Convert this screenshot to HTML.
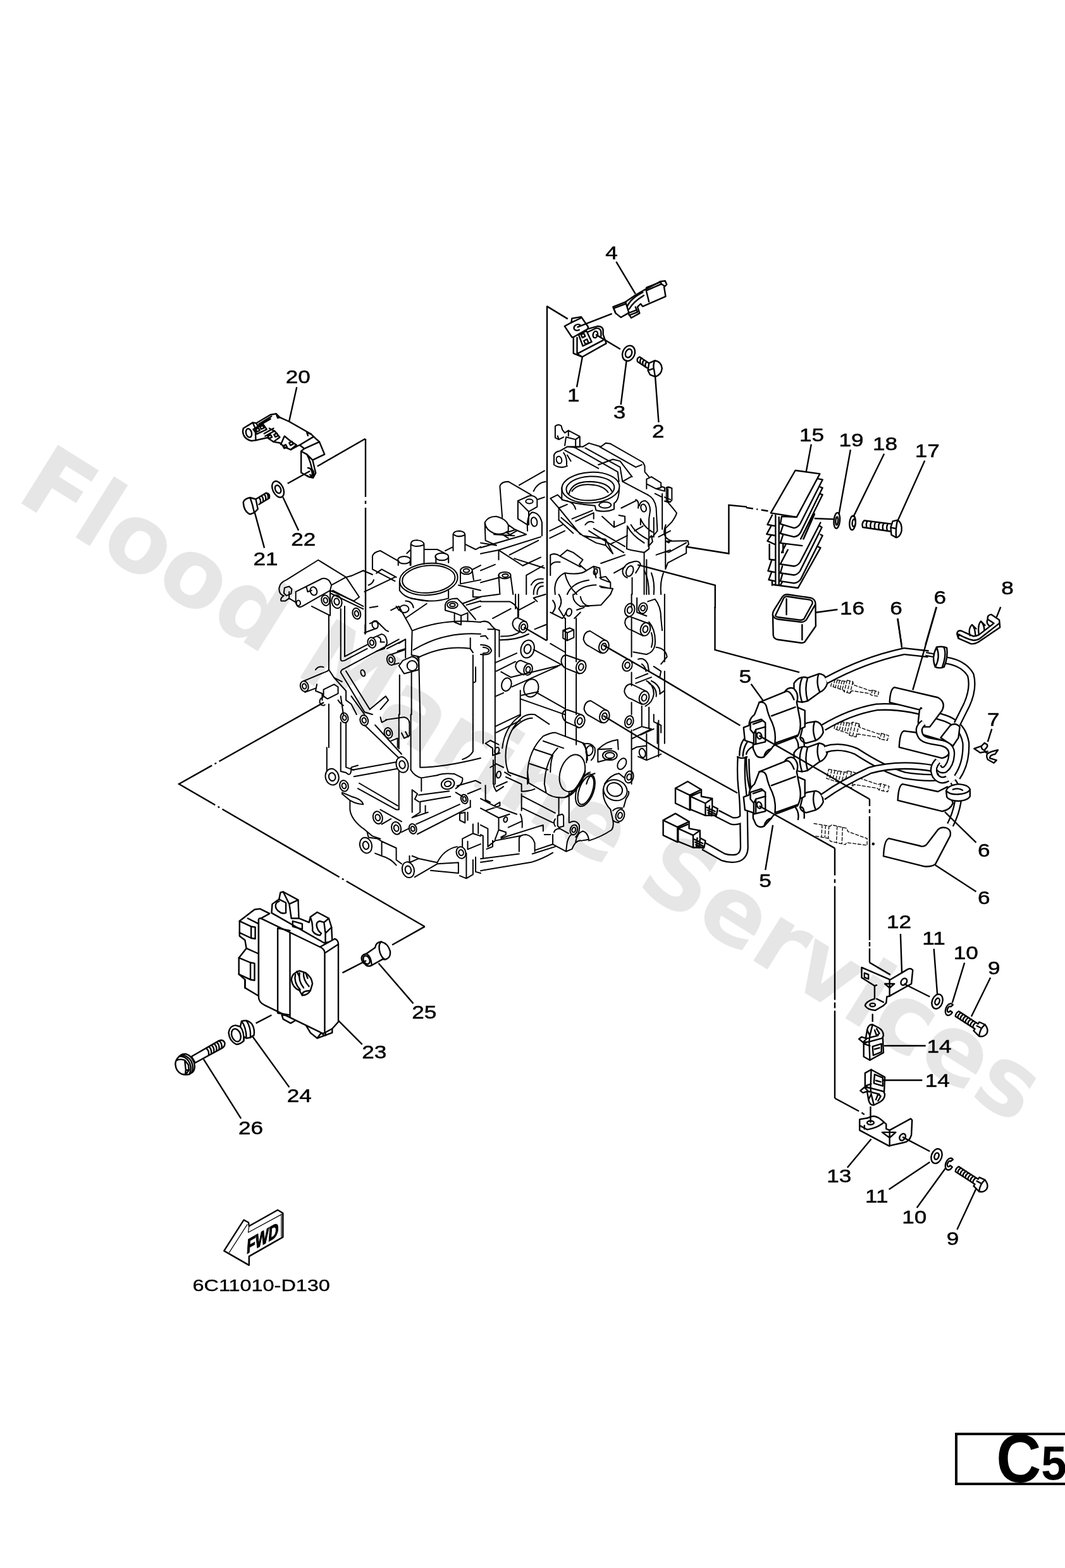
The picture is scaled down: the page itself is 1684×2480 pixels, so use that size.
<!DOCTYPE html>
<html lang="en">
<head>
<meta charset="utf-8">
<title>C5 - Electrical 1 - 6C11010-D130</title>
<style>
html,body{margin:0;padding:0;background:#fff;}
body{width:1684px;height:2480px;overflow:hidden;position:relative;font-family:"Liberation Sans",sans-serif;}
svg{position:absolute;left:0;top:0;display:block;will-change:transform;}
.wm{font-family:"DejaVu Sans","Liberation Sans",sans-serif;font-weight:bold;fill:#000;fill-opacity:0.098;}
.lb{font-family:"Liberation Sans",sans-serif;font-size:29.5px;fill:#000;stroke:#000;stroke-width:0.5;text-anchor:middle;}
.k{fill:none;stroke:#000;stroke-width:2.4;stroke-linecap:round;stroke-linejoin:round;}
.kf{fill:#fff;stroke:#000;stroke-width:2.4;stroke-linecap:round;stroke-linejoin:round;}
.t{fill:none;stroke:#000;stroke-width:1.4;stroke-linecap:round;stroke-linejoin:round;}
.ld{fill:none;stroke:#000;stroke-width:2.4;}
.dd{fill:none;stroke:#000;stroke-width:1.5;stroke-dasharray:120 6 8 6;}
.ph{fill:none;stroke:#000;stroke-width:1.3;stroke-dasharray:14 3 3 3;}

.z path,.z ellipse,.z circle,.z line,.z polyline,.z polygon,.z rect{vector-effect:non-scaling-stroke;}
.w{fill:#fff;}
.tb{fill:none;stroke:#000;stroke-linecap:butt;stroke-linejoin:round;}
.tw{fill:none;stroke:#fff;stroke-linecap:butt;stroke-linejoin:round;}
.bk{fill:none;stroke:#000;stroke-width:2;stroke-linecap:round;stroke-linejoin:round;}
.bk .f{fill:#fff;}
</style>
</head>
<body>
<svg width="1684" height="2480" viewBox="0 0 1684 2480">
<rect width="1684" height="2480" fill="#fff"/>
<!-- PAGEBOX -->
<g id="pagebox">
<rect x="1512" y="2268" width="200" height="79" fill="#fff" stroke="#000" stroke-width="4"/>
<text transform="translate(1575.3,2344) scale(0.92,1)" font-family="Liberation Sans, sans-serif" font-weight="bold" font-size="107" fill="#000">C</text>
<text transform="translate(1646.3,2340) scale(0.95,1)" font-family="Liberation Sans, sans-serif" font-weight="bold" font-size="76.5" fill="#000">5</text>
</g>
<!-- BLOCK -->
<g id="block">
<!-- T_A region (760,640) 300 -->
<g class="z bk" transform="translate(760,640) scale(0.190114)">
<path d="M620,180 Q640,160 670,175 L680,210 L700,235 L730,215 L825,265 L825,350 L790,355 L790,290 L710,270 L700,340 M620,180 L620,275 L650,290 L690,270 M650,290 L640,260 M730,215 L730,260 M790,290 L825,265"/>
<path d="M610,420 Q620,390 660,385 L720,350 L780,355 M610,420 L610,500 Q640,525 690,520 L720,510 M690,400 Q720,440 715,500 M720,350 L850,350 M720,420 L750,470"/>
<ellipse cx="652" cy="460" rx="22" ry="30" transform="rotate(-15 652 460)"/>
<path d="M850,350 L900,320 L1000,350 L1040,320 L1080,325 L1350,480 L1365,510 L1365,560 L1400,600 M870,360 L1160,520 M990,350 L1290,520 M780,355 L1140,560 M980,500 L1100,455 L1160,470 L1260,600 M1290,520 L1340,500 M1180,640 L1250,600 M700,380 L980,530 M1160,520 L1180,640 L1390,750 M1140,560 L1150,640"/>
<ellipse cx="915" cy="690" rx="240" ry="128" transform="rotate(-3 915 690)"/>
<ellipse cx="912" cy="697" rx="200" ry="100" transform="rotate(-3 912 697)"/>
<path d="M735,740 Q760,640 910,640 Q1060,645 1090,720 M760,720 Q800,660 910,665 Q1020,670 1060,730"/>
<path d="M675,690 L675,790 Q800,830 950,840 L960,880 Q1040,900 1110,870 L1110,820 Q1150,800 1152,700 M580,780 L640,750 L680,790 M580,780 L650,860 L650,960 M650,860 L720,830 M720,800 Q780,820 790,870"/>
<ellipse cx="1035" cy="835" rx="50" ry="25"/>
<path d="M1380,620 L1420,600 L1500,650 L1500,690 L1460,700 L1380,660 Z M1380,620 L1380,700 M1460,700 L1530,720 L1530,690 L1500,680 M1545,690 Q1560,680 1578,690 M1545,690 L1545,800 L1578,810 M1450,740 L1510,770 L1510,800"/>
<ellipse cx="1355" cy="860" rx="22" ry="32" transform="rotate(-15 1355 860)"/>
<path d="M1320,840 Q1330,800 1370,800 Q1410,820 1410,880 L1400,950 M1390,750 Q1450,780 1460,860 L1470,1050 L1430,1100 M1440,940 L1440,1100 M1400,950 L1400,1200 L1360,1230 L1360,1578 M1380,1290 L1380,1578 M1395,1120 L1420,1090 L1430,1140 L1395,1180 Z M1170,860 L1290,800 M1290,790 Q1320,800 1310,860"/>
<path d="M1220,1010 Q1260,1090 1360,1150 M1250,1000 Q1290,1070 1390,1120 M1330,950 Q1360,1020 1430,1060 M1220,1010 L1215,1200 L1250,1210 L1360,1230 M1330,950 L1330,1000 M1280,1050 L1350,1010"/>
<path d="M650,860 L830,1080 M650,960 L770,1070 M670,940 L850,1090 L1040,1120 L1040,1170 L960,1150 L850,1090 M1040,1170 L1100,1240 M760,950 L930,880 M790,970 L940,900 L940,950 M900,1050 L1190,1230 M940,1030 L1200,1180 M870,1000 Q900,960 940,980 M1010,930 L1110,1020 L1200,980 L1200,930 L1150,920 M1080,1160 L1220,1090 M575,1050 L680,1000 M575,1110 L700,1050 M1100,1240 L1040,1120 M1110,1020 L1110,970"/>
<path d="M160,680 Q170,640 230,640 L420,750 M160,680 L180,940 M320,670 L530,550 M310,800 L400,760 Q450,750 470,790 L470,850 L400,890 L310,800 M310,800 L310,950 L390,1000 M400,890 L400,1000 M440,720 Q470,650 540,640 M470,790 L530,770"/>
<ellipse cx="405" cy="805" rx="30" ry="18"/>
<path d="M390,1050 Q380,920 430,895 Q490,900 510,980 L510,1090"/>
<ellipse cx="445" cy="975" rx="25" ry="38" transform="rotate(-10 445 975)"/>
<path d="M35,980 Q60,930 130,930 Q210,950 230,1000 L230,1050 Q180,1090 110,1070 Q40,1040 35,980 Z M35,980 L40,1130 L130,1170 M110,1080 L280,1090 M230,1000 L300,1050 L230,1090 M180,1080 L230,1110 M210,1060 L260,1090"/>
<path d="M150,1210 L150,1290 M150,1210 L500,1100 M150,1210 L350,1340 M240,1250 L480,1130 M0,1190 L380,1080 L290,1040 L230,1060 M0,1240 L150,1210 M280,1280 L530,1360 M0,1380 L120,1330 M0,1480 L150,1440 M350,1340 L500,1270 M0,1150 L130,1170"/>
<ellipse cx="200" cy="1420" rx="50" ry="28"/>
<ellipse cx="205" cy="1422" rx="25" ry="14"/>
<path d="M150,1420 L160,1578 M250,1430 L270,1578 M380,1420 L380,1578 M380,1420 L520,1340 M420,1500 Q450,1440 520,1450 M440,1578 Q440,1480 520,1480 M470,1578 Q470,1510 520,1510"/>
<path d="M580,1250 Q620,1230 660,1260 L720,1210 L770,1230 L850,1290 L820,1330 L880,1380 Q830,1420 700,1400 Q600,1450 620,1578 M700,1400 Q720,1500 800,1578 M660,1260 L830,1350 M580,1250 L580,1420 M580,1340 Q600,1300 660,1310"/>
<path d="M880,1380 L940,1345 L990,1360 L1000,1450 L1080,1480 L1080,1530 L990,1510 M940,1345 L960,1440 M720,1578 Q760,1480 900,1460 M780,1578 Q850,1500 960,1500 M1000,1520 L1100,1530 L1080,1578 M990,1440 L1040,1430 L1080,1480"/>
<ellipse cx="955" cy="1390" rx="15" ry="25" transform="rotate(15 955 1390)"/>
<ellipse cx="1240" cy="1385" rx="28" ry="45" transform="rotate(20 1240 1385)"/>
<path d="M1180,1380 Q1200,1320 1260,1310 Q1320,1290 1330,1330 M1180,1380 Q1180,1430 1220,1440 M1260,1440 L1260,1578 M1000,1320 L1200,1250 M1110,1400 L1200,1350 M1290,1400 Q1310,1370 1330,1330"/>
<path d="M1360,1380 Q1400,1450 1400,1578 M1420,1400 Q1450,1480 1440,1578 M1520,1400 Q1490,1480 1500,1578 M1540,1000 Q1500,1100 1578,1130 M1460,1250 L1578,1210 M1530,770 L1578,790 M1480,1100 L1578,1050"/>
</g>
<!-- T_B region (430,800) 330 -->
<g class="z bk" transform="translate(430,800) scale(0.209125)">
<path d="M55,620 Q60,580 110,560 L350,410 L560,540 L450,600 Q430,540 380,550 L180,650 L180,730 L130,700 L130,650 M55,620 Q50,670 90,680 Q60,700 70,720 L100,720 L130,700 M560,540 L660,690 L620,720 L440,640 M450,600 L440,640 L230,760 Q190,780 180,730 M180,650 L260,610 L270,650 L300,640 M300,760 L440,830 L440,640 M95,620 L130,610 L150,630 L145,665 L110,680 L90,660 Z M600,530 L690,490 M560,540 L600,530"/>
<ellipse cx="315" cy="645" rx="25" ry="32" transform="rotate(-20 315 645)"/>
<ellipse cx="200" cy="735" rx="15" ry="20"/>
<ellipse cx="405" cy="715" rx="30" ry="40" transform="rotate(-15 405 715)"/><ellipse cx="405" cy="715" rx="15" ry="20" transform="rotate(-15 405 715)"/><ellipse cx="490" cy="725" rx="38" ry="50" transform="rotate(-15 490 725)"/><ellipse cx="490" cy="725" rx="19" ry="25" transform="rotate(-15 490 725)"/><ellipse cx="640" cy="815" rx="30" ry="42" transform="rotate(-15 640 815)"/><ellipse cx="640" cy="815" rx="15" ry="21" transform="rotate(-15 640 815)"/>
<path d="M440,660 L690,780 M460,640 L690,760 M430,830 L430,1240 M520,780 L520,1160 M550,760 L550,1140 M520,1160 Q520,1180 550,1170 L720,1080 M550,1140 L720,1050 M430,1240 L470,1300 L530,1330 M520,1260 Q520,1240 550,1230 L960,1010 M520,1260 L700,1560 M560,1250 L740,1540 M700,1560 L760,1578 M740,1540 L860,1440 L880,1470 L820,1540"/>
<ellipse cx="688" cy="1265" rx="15" ry="25" transform="rotate(-20 688 1265)"/>
<path d="M760,380 Q770,350 820,340 L960,420 M760,380 L760,480 L930,570 M790,510 L830,480 L940,540 M730,600 Q760,590 770,560 M700,650 L930,540 M740,770 L800,760 M690,490 L760,520"/>
<path d="M1050,290 Q1050,260 1100,260 Q1150,265 1150,295 L1150,440 M1050,290 L1050,450 M1050,290 Q1080,320 1150,295 M1370,215 Q1375,190 1420,190 Q1460,195 1460,220 L1460,340 M1370,215 L1370,340 M1370,215 Q1410,245 1460,220 M955,415 L955,450 M1045,415 L1045,450 M1240,390 L1240,430 M1335,390 L1335,430 M1020,360 L1050,330 M1150,330 L1250,330 L1310,360 M1310,340 L1370,310 M1460,290 L1540,330 L1578,310"/>
<ellipse cx="1000" cy="410" rx="48" ry="28"/>
<ellipse cx="1285" cy="385" rx="50" ry="28"/>
<ellipse cx="1185" cy="555" rx="220" ry="120" transform="rotate(-5 1185 555)"/>
<ellipse cx="1185" cy="555" rx="200" ry="103" transform="rotate(-5 1185 555)"/>
<path d="M965,570 L965,640 M1335,640 L1335,700 Q1200,740 1060,700 M965,640 Q1000,690 1060,700"/>
<ellipse cx="1470" cy="490" rx="45" ry="28" transform="rotate(0 1470 490)"/><ellipse cx="1470" cy="490" rx="22" ry="14" transform="rotate(0 1470 490)"/><ellipse cx="1365" cy="750" rx="40" ry="25" transform="rotate(0 1365 750)"/><ellipse cx="1365" cy="750" rx="20" ry="12" transform="rotate(0 1365 750)"/>
<path d="M1425,495 L1425,590 M1515,495 L1525,560 M1425,590 L1578,560 M1410,600 L1578,640 M1520,480 L1578,450 M1520,640 L1520,690 L1578,690 M1310,750 Q1320,700 1400,700 L1440,740 L1578,690 M1310,750 L1310,790 L1380,810 M1440,740 L1540,860 M1380,810 L1380,880 L1430,900 L1430,830 L1380,810 M1430,830 L1480,810 L1480,870 M1500,790 L1578,760 M1470,750 L1578,720"/>
<path d="M1060,945 Q1300,850 1578,880 M1070,1090 Q1300,950 1578,970 M1100,1150 Q1300,1050 1500,1080 M1060,945 Q1040,900 1010,850 L960,760 M1060,945 L1055,1130 M1010,1010 L1010,1150 M960,760 L900,790 M1500,1000 L1500,1080 L1520,1110 M1060,1130 L1110,1140 L1120,1578 M1055,1250 L1055,1578 M965,1280 L965,1578 M1520,1130 L1520,1578 M1540,1220 L1540,1330 L1520,1340"/>
<ellipse cx="755" cy="1035" rx="30" ry="40" transform="rotate(-15 755 1035)"/><ellipse cx="755" cy="1035" rx="15" ry="20" transform="rotate(-15 755 1035)"/><ellipse cx="900" cy="1165" rx="30" ry="40" transform="rotate(-15 900 1165)"/><ellipse cx="900" cy="1165" rx="15" ry="20" transform="rotate(-15 900 1165)"/>
<ellipse cx="780" cy="900" rx="22" ry="30" transform="rotate(-15 780 900)"/>
<ellipse cx="1000" cy="780" rx="35" ry="28"/>
<ellipse cx="1060" cy="1210" rx="38" ry="38"/>
<path d="M700,960 L780,930 M705,900 L705,970 M740,890 L790,870 L860,940 L880,950 M760,1000 L830,970 Q870,980 870,1040 L850,1080 L790,1100 M800,990 Q830,1000 820,1030 L850,1030 M960,790 L940,760 M1010,720 Q1060,720 1070,770 M1050,700 L1180,720 M1010,850 L1170,740 M900,1125 L1000,1090 M920,1200 L960,1190 M990,1170 L1060,1140 Q1110,1150 1110,1200 L1110,1240 L1000,1270 L960,1210 Z M960,1040 L1010,1010 M950,1100 L1010,1080 M870,1080 L1010,1010"/>
<ellipse cx="245" cy="1365" rx="30" ry="40" transform="rotate(-15 245 1365)"/><ellipse cx="245" cy="1365" rx="15" ry="20" transform="rotate(-15 245 1365)"/>
<path d="M240,1325 L420,1250 M250,1410 L330,1380 M330,1240 Q350,1210 390,1220 M340,1350 L330,1400 L380,1420 L380,1470 M390,1390 L470,1350 L500,1370 L500,1420 L420,1460 L390,1440 Z M470,1300 L560,1400 M420,1250 L430,1240 M385,1450 A25,30 0 1 0 400,1505 M430,1500 L430,1578 M520,1440 L540,1578 M500,1470 Q520,1500 540,1510 M560,1400 L560,1470 L600,1500 L640,1578 M600,1440 L700,1578"/>
</g>
<!-- T_C region (760,940) 300 -->
<g class="z bk" transform="translate(760,940) scale(0.190114)">
<ellipse cx="355" cy="272" rx="35" ry="48" transform="rotate(15 355 272)"/><ellipse cx="355" cy="272" rx="18" ry="24" transform="rotate(15 355 272)"/><ellipse cx="390" cy="455" rx="55" ry="75" transform="rotate(15 390 455)"/><ellipse cx="390" cy="455" rx="28" ry="38" transform="rotate(15 390 455)"/><ellipse cx="395" cy="625" rx="35" ry="48" transform="rotate(15 395 625)"/><ellipse cx="395" cy="625" rx="18" ry="24" transform="rotate(15 395 625)"/><ellipse cx="835" cy="605" rx="40" ry="55" transform="rotate(15 835 605)"/><ellipse cx="835" cy="605" rx="20" ry="28" transform="rotate(15 835 605)"/><ellipse cx="825" cy="1055" rx="40" ry="55" transform="rotate(15 825 1055)"/><ellipse cx="825" cy="1055" rx="20" ry="28" transform="rotate(15 825 1055)"/><ellipse cx="1025" cy="435" rx="40" ry="55" transform="rotate(15 1025 435)"/><ellipse cx="1025" cy="435" rx="20" ry="28" transform="rotate(15 1025 435)"/><ellipse cx="1030" cy="1015" rx="40" ry="55" transform="rotate(15 1030 1015)"/><ellipse cx="1030" cy="1015" rx="20" ry="28" transform="rotate(15 1030 1015)"/><ellipse cx="1240" cy="130" rx="40" ry="55" transform="rotate(15 1240 130)"/><ellipse cx="1240" cy="130" rx="20" ry="28" transform="rotate(15 1240 130)"/><ellipse cx="1350" cy="115" rx="35" ry="45" transform="rotate(15 1350 115)"/><ellipse cx="1350" cy="115" rx="18" ry="22" transform="rotate(15 1350 115)"/><ellipse cx="1370" cy="290" rx="40" ry="55" transform="rotate(15 1370 290)"/><ellipse cx="1370" cy="290" rx="20" ry="28" transform="rotate(15 1370 290)"/><ellipse cx="1220" cy="590" rx="40" ry="50" transform="rotate(15 1220 590)"/><ellipse cx="1220" cy="590" rx="20" ry="25" transform="rotate(15 1220 590)"/><ellipse cx="1360" cy="860" rx="40" ry="55" transform="rotate(15 1360 860)"/><ellipse cx="1360" cy="860" rx="20" ry="28" transform="rotate(15 1360 860)"/><ellipse cx="1235" cy="1060" rx="35" ry="50" transform="rotate(15 1235 1060)"/><ellipse cx="1235" cy="1060" rx="18" ry="25" transform="rotate(15 1235 1060)"/><ellipse cx="1235" cy="1520" rx="35" ry="50" transform="rotate(15 1235 1520)"/><ellipse cx="1235" cy="1520" rx="18" ry="25" transform="rotate(15 1235 1520)"/>
<ellipse cx="735" cy="150" rx="22" ry="32" transform="rotate(15 735 150)"/>
<ellipse cx="215" cy="750" rx="40" ry="55" transform="rotate(15 215 750)"/>
<ellipse cx="420" cy="780" rx="60" ry="75" transform="rotate(15 420 780)"/>
<ellipse cx="1345" cy="1320" rx="25" ry="38" transform="rotate(-15 1345 1320)"/>
<path d="M265,245 Q270,200 310,195 L380,230 M265,245 Q270,290 320,310 M290,600 Q295,555 335,550 L400,578 M290,600 Q300,650 360,670 M670,560 Q670,510 710,505 L845,552 M670,560 Q680,610 720,620 L820,660 M680,1010 Q680,965 720,960 L835,1000 M680,1010 Q690,1060 730,1070 L810,1105 M855,375 Q860,310 910,305 L1040,385 M855,375 Q870,420 900,430 L1000,488 M860,955 Q865,890 915,885 L1045,965 M860,955 Q875,1000 905,1010 L1005,1068 M1200,240 Q1200,190 1240,185 L1390,240 M1200,240 Q1210,290 1260,300 L1350,345 M1195,810 Q1200,750 1250,745 L1380,808 M1195,810 Q1210,860 1250,870 L1340,915"/>
<path d="M20,500 L20,1240 M120,290 L120,1578 M155,300 L155,520 M330,800 L330,1010 M290,0 L290,120 M315,0 L315,185 M705,200 L705,1180 M795,200 L795,560 M795,660 L795,1000 M795,1110 L795,1250 M1255,0 L1255,100 M1255,200 L1255,520 M1255,650 L1255,760 M1255,900 L1255,1000 M1255,1130 L1255,1578 M1530,0 L1530,560 M1530,640 L1530,1240 M1480,1050 L1480,1350"/>
<path d="M120,570 L300,490 M130,640 L290,560 M120,850 L190,820 M170,645 L250,690 M250,690 L660,590 M260,770 L640,600 M330,870 L700,1000 M340,840 L480,810 M470,820 L700,950 M120,1100 L330,1000 M130,1150 L330,1050 M580,410 L700,480 M440,460 L680,590 M0,60 L240,60 Q290,80 310,130 L310,190 M0,20 L150,0 M100,200 L250,120 M160,380 Q300,380 400,330 M170,350 Q280,350 330,310"/>
<path d="M0,230 Q60,210 90,260 L120,290 L155,300 M60,290 L120,290 M0,350 L40,345 L60,370 M0,420 Q80,420 90,470 Q80,510 0,500 M20,440 Q70,445 70,470 Q60,490 20,490 M440,30 L540,0 M440,30 L470,60 M450,290 L550,250 M320,130 L450,60 M580,150 L680,200 Q700,180 710,150 M600,50 Q640,100 600,150 M650,0 Q690,60 650,120 L700,200 M770,0 Q760,60 830,100 L1000,90 L1080,0 M830,20 Q840,80 900,100 M800,130 L860,110 M780,200 L830,150 M685,300 L740,280 L775,295 L775,360 L720,385 L685,365 Z M685,300 L720,320 L720,385 M720,320 L775,295"/>
<path d="M1300,30 L1300,150 L1380,180 M1390,60 L1450,40 Q1500,100 1500,200 L1510,300 M1400,230 Q1460,300 1450,420 Q1440,480 1380,500 L1270,480 M1420,320 Q1440,380 1420,440 M1460,440 Q1540,450 1550,520 L1500,580 M1310,540 Q1360,520 1390,580 L1400,640 M1340,580 Q1370,600 1375,640 M1440,600 L1500,640 L1490,690 M1290,700 L1390,660 M1290,740 L1420,690 M1380,720 Q1440,750 1440,830 Q1430,900 1370,930 M1400,740 Q1470,780 1460,850 M1420,720 Q1500,760 1490,830 L1530,800 M1340,930 L1340,1100 M1400,940 L1400,1110 M1440,1000 L1440,1060 L1500,1090 L1500,1150 M1270,1130 L1340,1100 L1420,1120 L1300,1180 M1330,1170 L1440,1120 M1260,1200 L1300,1180 M1260,1290 L1300,1270 L1380,1260 M1380,1160 L1380,1380 L1310,1350 M1380,1380 L1500,1330 M1470,1070 L1470,1240"/>
<path d="M390,1480 Q400,1300 520,1180 Q580,1150 620,1150 L860,1240 Q890,1300 880,1400 M390,1480 L390,1578 M450,1290 L600,1340 M520,1220 L690,1280 M410,1410 L560,1460 M530,1578 Q540,1380 640,1280 M600,1340 Q580,1400 580,1480 M210,1300 Q230,1120 350,1020 Q400,990 450,1000 L570,1080 M180,1280 Q200,1100 330,1010 M260,1130 Q350,1030 430,1030 M210,1300 Q200,1400 230,1480 L400,1540 M200,1480 L250,1510 M860,1245 Q920,1230 950,1280 Q960,1340 920,1380"/>
<ellipse cx="905" cy="1300" rx="28" ry="42" transform="rotate(15 905 1300)"/>
<path d="M40,1240 L80,1215 L150,1250 M40,1240 L100,1280 L100,1340 M100,1340 L160,1320 M80,1440 L130,1410 L190,1440 M105,1380 L105,1578"/>
<ellipse cx="135" cy="1300" rx="18" ry="28" transform="rotate(15 135 1300)"/>
<ellipse cx="150" cy="1500" rx="18" ry="28" transform="rotate(15 150 1500)"/>
<path d="M975,1290 Q1050,1220 1140,1210 L1145,1290 M975,1290 L975,1395 L1090,1365 M975,1290 L1090,1285 M1030,1578 Q1080,1500 1150,1490 L1200,1530 M880,1578 Q900,1500 950,1490 M830,1578 Q860,1490 910,1480"/>
<ellipse cx="1075" cy="1340" rx="60" ry="40"/>
<ellipse cx="1075" cy="1340" rx="38" ry="24"/>
<ellipse cx="1175" cy="1410" rx="32" ry="50" transform="rotate(30 1175 1410)"/>
</g>
<!-- T_D region (430,1130) 330 -->
<g class="z bk" transform="translate(430,1130) scale(0.209125)">
<ellipse cx="548" cy="25" rx="28" ry="38" transform="rotate(-15 548 25)"/><ellipse cx="548" cy="25" rx="14" ry="19" transform="rotate(-15 548 25)"/><ellipse cx="697" cy="45" rx="30" ry="40" transform="rotate(-15 697 45)"/><ellipse cx="697" cy="45" rx="15" ry="20" transform="rotate(-15 697 45)"/><ellipse cx="880" cy="140" rx="30" ry="40" transform="rotate(-15 880 140)"/><ellipse cx="880" cy="140" rx="15" ry="20" transform="rotate(-15 880 140)"/><ellipse cx="455" cy="472" rx="50" ry="62" transform="rotate(-15 455 472)"/><ellipse cx="455" cy="472" rx="25" ry="31" transform="rotate(-15 455 472)"/><ellipse cx="545" cy="540" rx="32" ry="42" transform="rotate(-15 545 540)"/><ellipse cx="545" cy="540" rx="16" ry="21" transform="rotate(-15 545 540)"/><ellipse cx="985" cy="380" rx="45" ry="60" transform="rotate(-15 985 380)"/><ellipse cx="985" cy="380" rx="22" ry="30" transform="rotate(-15 985 380)"/><ellipse cx="800" cy="780" rx="35" ry="48" transform="rotate(-15 800 780)"/><ellipse cx="800" cy="780" rx="18" ry="24" transform="rotate(-15 800 780)"/><ellipse cx="940" cy="860" rx="35" ry="48" transform="rotate(-15 940 860)"/><ellipse cx="940" cy="860" rx="18" ry="24" transform="rotate(-15 940 860)"/><ellipse cx="1065" cy="865" rx="28" ry="38" transform="rotate(-15 1065 865)"/><ellipse cx="1065" cy="865" rx="14" ry="19" transform="rotate(-15 1065 865)"/><ellipse cx="710" cy="990" rx="45" ry="60" transform="rotate(-15 710 990)"/><ellipse cx="710" cy="990" rx="22" ry="30" transform="rotate(-15 710 990)"/><ellipse cx="1030" cy="1175" rx="45" ry="60" transform="rotate(-15 1030 1175)"/><ellipse cx="1030" cy="1175" rx="22" ry="30" transform="rotate(-15 1030 1175)"/><ellipse cx="1330" cy="525" rx="50" ry="40" transform="rotate(-15 1330 525)"/><ellipse cx="1330" cy="525" rx="25" ry="20" transform="rotate(-15 1330 525)"/><ellipse cx="1455" cy="640" rx="25" ry="35" transform="rotate(-15 1455 640)"/><ellipse cx="1455" cy="640" rx="12" ry="18" transform="rotate(-15 1455 640)"/><ellipse cx="1430" cy="1045" rx="35" ry="45" transform="rotate(-15 1430 1045)"/><ellipse cx="1430" cy="1045" rx="18" ry="22" transform="rotate(-15 1430 1045)"/>
<path d="M430,0 L430,250 M415,250 L415,430 M520,60 L520,430 M560,60 L560,400 L620,420 M520,430 L560,440 M700,80 L960,330 M780,80 L980,300 M960,0 L960,260 M1050,0 L1050,420 M1120,0 L1120,400 Q1300,400 1578,330 M1520,0 L1520,280 Q1500,320 1440,340"/>
<path d="M610,420 L940,360 M620,470 L950,410 M600,400 L650,385 M560,440 Q600,480 600,400 M960,430 L960,720 M660,520 L950,690 M650,560 L940,720 L960,720 M530,590 L600,620 Q680,640 690,680 Q640,680 590,650 L530,600 M590,650 L590,720 Q600,800 700,870 M700,870 L760,920 L820,940 M1050,420 Q1080,470 1130,480 L1250,460 M1130,480 L1130,580 M1060,570 L1060,740 M1060,570 L1100,600 L1080,640 L1110,660 M1110,610 L1340,580 M1120,660 L1350,620 M1120,660 L1120,740 L1060,780 M1160,690 L1160,740 M1060,780 L1180,740 M1090,830 L1420,680 M1100,905 L1500,700 M820,720 L980,810 M830,830 L900,790 M980,890 L1040,860"/>
<path d="M1250,460 Q1300,440 1380,450 L1440,480 Q1450,520 1390,560 M1400,540 L1540,500 L1578,520 M1390,590 L1440,620 M1480,600 L1578,560 M1500,700 L1500,650 M1420,750 L1460,740 L1460,820 L1420,800 Z M1480,740 L1480,800 M1520,830 L1520,900 L1440,940 L1440,1000 M1560,820 L1560,900 M1480,960 L1480,1020 L1578,980 M1520,900 L1578,920"/>
<path d="M720,890 L730,930 L800,940 L830,960 L830,1070 L780,1050 M830,960 L940,1010 L940,1100 L980,1130 M830,1070 Q900,1090 940,1140 M1040,1070 L1040,1120 L1110,1090 L1060,1070 M1110,1090 L1250,1120 M1250,1120 Q1300,1020 1400,1000 M1080,1230 L1250,1130 L1410,1120 L1410,1200 L1200,1180 M1470,1050 L1470,1240 L1420,1220 M1470,1240 L1520,1210 L1520,1100 M1540,1080 L1540,1190 L1578,1200"/>
<path d="M860,40 L1000,20 Q1040,30 1040,70 L1040,160 L1000,180 M900,200 L950,180 L950,250 M820,20 L830,60 L870,40 M980,140 L1000,180 M1010,130 L1030,170"/>
</g>
<!-- T_E region (760,1130) 300 -->
<g class="z bk" transform="translate(760,1130) scale(0.190114)">
<ellipse cx="775" cy="960" rx="30" ry="42" transform="rotate(15 775 960)"/><ellipse cx="775" cy="960" rx="15" ry="21" transform="rotate(15 775 960)"/><ellipse cx="1160" cy="840" rx="35" ry="50" transform="rotate(15 1160 840)"/><ellipse cx="1160" cy="840" rx="18" ry="25" transform="rotate(15 1160 840)"/>
<path d="M390,480 L400,570 L540,650 Q600,700 700,690 Q800,640 870,470 M530,578 L545,650 M230,480 L400,540 M340,640 Q400,640 450,620 M210,520 L340,580 L340,640"/>
<path d="M650,690 L650,840 M735,650 L735,900 M340,660 L340,800 M350,780 L600,900 M350,680 L620,820 M330,830 Q350,870 345,940"/>
<path d="M40,590 L40,710 L80,730 M0,700 L110,760 L160,730 L160,760 L40,800 M110,760 L300,830 M0,780 L150,860 L150,960 L120,1040 M150,860 L240,830 M150,960 L210,980 L210,1000 L170,1020 M0,920 L60,950 L60,1100 L120,1050 M0,1000 L20,1010 L20,1190 M100,1050 L100,1100 L50,1120 M230,940 L340,890 M170,1030 L520,920 L520,970 M120,1050 L330,1010 M320,1030 Q330,1000 380,1000 Q430,1010 450,1070 L450,1140 M320,1030 L320,1140 M450,1130 L600,1080 M430,1160 L620,1100 M0,1200 L320,1160 M0,1300 L420,1230 Q520,1200 600,1150 M0,1230 L100,1215 M530,1000 L580,1000"/>
<ellipse cx="207" cy="875" rx="15" ry="22" transform="rotate(15 207 875)"/>
<path d="M640,840 L680,830 L690,845 L690,930 L650,940 L640,925 Z M620,870 Q600,900 620,930 M740,900 Q790,870 820,920 Q830,980 790,1020 M610,980 Q620,950 660,950 L730,990 M600,1000 L600,1080 L710,1140 L720,1060 Q740,1000 760,1000 M710,1140 L760,1120 Q790,1040 840,1050 M790,1060 Q800,990 850,970 Q890,980 900,1040 L840,1050"/>
<path d="M110,580 L110,600 L130,640 L190,600 M130,600 L220,560"/>
<ellipse cx="870" cy="630" rx="70" ry="140" transform="rotate(20 870 630)"/>
<ellipse cx="875" cy="630" rx="55" ry="125" transform="rotate(20 875 630)"/>
<ellipse cx="1120" cy="630" rx="100" ry="85" transform="rotate(20 1120 630)"/>
<ellipse cx="1115" cy="625" rx="65" ry="55" transform="rotate(20 1115 625)"/>
<path d="M1020,620 Q1010,720 1080,790 L1100,880 Q1110,930 1090,960 Q1000,1020 900,1050 M1230,640 Q1240,660 1210,700 L1190,770 M1100,800 Q1130,770 1180,780 M1100,880 Q1120,900 1150,900"/>
<ellipse cx="762" cy="488" rx="100" ry="158" transform="rotate(18 762 488)"/>
<path d="M850,240 Q890,290 888,380 M870,470 Q850,560 790,630 Q750,680 700,690"/>
</g>
<!-- T_F region (980,700) 200 -->
<g class="z bk" transform="translate(980,700) scale(0.126743)">
<path d="M580,570 Q610,550 650,570 L650,720 Q630,750 600,740 L600,580 M530,640 L530,1080 M560,730 L600,745 Q690,850 710,880 Q700,920 650,990 L580,1060 M570,1070 L570,1578 M570,1230 L850,1225 L860,1270 L830,1300 L830,1380 L600,1500 L570,1578 M570,1360 L610,1370 L830,1250 M570,1230 L610,1250 L640,1220"/>
</g>
<!-- T_G right column below (1040..1080, 900..1300) -->
</g>
<!-- PARTS -->
<g id="parts">
<!-- R1: parts 1,2,3,4 region (840,380) 260 -->
<g class="z k" transform="translate(840,380) scale(0.164766)">
<path d="M785,640 L905,592 Q1000,520 1100,470 L1240,395 L1285,390 L1300,425 L1275,450 L1290,540 L1070,635 L1050,610 L1020,640 L1040,700 L960,745 L930,700 L860,740 L810,700 Z"/>
<path d="M905,592 L935,690 M800,650 L905,610 M810,700 L790,650 M1100,470 L1130,590 M1105,455 L1245,400 M1110,480 L1250,420 L1280,440 M1250,420 L1240,395 M920,640 Q950,560 1070,500 M940,660 Q980,590 1080,530 M930,700 L1010,670 M940,720 L1020,690 M1000,640 L1020,690"/>
<path d="M320,825 L385,790 L390,750 L480,735 L510,780 L545,830 L545,850 L640,825 Q690,825 690,870 L690,905 L720,990 L490,1120 L405,1085 L405,930 L390,930 Z"/>
<path d="M385,790 L480,745 M405,930 L545,850 M440,935 L440,1090 L490,1120 M440,1090 L690,960 M455,905 L530,870 L580,975 L495,1015 Z M478,905 L505,893 L518,922 L490,935 Z M505,965 L535,950 L550,985 L520,998 Z M545,880 L620,845 Q665,840 670,880 L670,920"/>
<path d="M470,815 A35,28 -20 1 0 460,860"/>
<ellipse cx="615" cy="905" rx="22" ry="32" transform="rotate(15 615 905)"/>
<ellipse cx="935" cy="1085" rx="58" ry="76" transform="rotate(22 935 1085)"/>
<ellipse cx="935" cy="1085" rx="30" ry="42" transform="rotate(22 935 1085)"/>
<path d="M1130,1180 L1185,1155 Q1250,1165 1255,1230 Q1250,1290 1190,1310 L1140,1290 L1120,1250 Z M1185,1155 Q1165,1200 1180,1250 Q1185,1290 1190,1310 M1120,1250 L1165,1235"/>
<path d="M1130,1180 L1040,1120 Q1010,1130 1020,1165 L1110,1225 M1060,1130 Q1035,1150 1050,1185 M1085,1148 Q1060,1165 1075,1202 M1110,1165 Q1085,1185 1100,1220"/>
</g>
<!-- R2: parts 20,21,22 region (360,600) 260 -->
<g class="z k" transform="translate(360,600) scale(0.164766)">
<path d="M150,470 L240,415 L275,420 L410,340 L465,330 L500,365 L590,405 L800,525 L825,550 L880,600 L930,720 L815,775 L845,900 L820,945 L775,935 L705,895 L705,690 L735,665 L690,630 L605,675 L545,650 L500,610 L440,600 L380,560 L270,585 L225,590 Q150,570 145,500 Z"/>
<path d="M240,415 L265,470 L270,585 M275,420 L290,450 L410,380 M290,450 L265,470 M300,430 L420,355 M465,330 L480,370 L500,365 M800,525 L760,510 L770,540 M700,625 L825,550 M735,665 L880,600 M705,690 L760,720 L815,775 M760,720 Q800,790 815,900"/>
<path d="M245,480 L340,430 L375,480 L280,525 Z M268,480 L295,467 L308,490 L282,503 Z M310,455 L337,442 L350,465 L322,478 Z M360,545 L450,495 L500,555 L440,600 M385,545 L412,532 L425,555 L398,568 Z M445,530 L472,517 L485,540 L458,553 Z M510,625 L545,545 L600,590 L660,630 L605,675 M530,640 L557,627 L570,650 L543,663 Z M590,610 L617,597 L630,620 L603,633 Z M350,520 L440,470 M400,470 L455,500"/>
<ellipse cx="203" cy="515" rx="27" ry="42" transform="rotate(-15 203 515)"/>
<path d="M770,850 A30,45 -20 1 1 765,925 M800,860 A22,35 -20 1 1 790,915"/>
<ellipse cx="483" cy="1055" rx="50" ry="82" transform="rotate(-25 483 1055)"/>
<ellipse cx="483" cy="1055" rx="26" ry="40" transform="rotate(-25 483 1055)"/>
<path d="M150,1180 Q160,1145 215,1135 L270,1150 L290,1245 L255,1280 L215,1295 Q155,1270 150,1180 Z M215,1135 Q240,1200 255,1280 M270,1150 L370,1090 Q410,1095 400,1140 L300,1200 M300,1135 Q320,1150 315,1190 M325,1120 Q345,1135 340,1175 M350,1105 Q370,1120 365,1160 M375,1092 Q392,1110 388,1148"/>
</g>
<!-- R3: parts 15-19 region (1180,680) 340 -->
<g class="z k" transform="translate(1180,680) scale(0.215463)">
<path d="M180,610 L360,297 L540,322 L370,640 Z"/>
<path d="M215,625 L215,1140 M240,640 L240,1140 M190,1135 L380,1160 L545,865 L520,855 M190,625 L155,695 L210,705 M185,700 L150,765 L210,775 M185,770 L155,815 L210,840 M170,840 L170,950 L210,955 M185,960 L160,1035 L210,1045 M185,1045 L165,1100 L210,1110 M190,1110 L190,1140"/>
<path d="M250,690 L260,635 L370,640 M250,690 L350,720 Q380,715 395,690 L560,365 L525,358 M250,760 L270,700 M250,760 L350,785 Q385,780 400,750 L560,425 L545,420 M250,830 L270,770 M250,830 L410,850 M400,800 L560,475 L545,470 M500,615 L420,800 M260,900 L290,840 M270,840 L270,900"/>
<path d="M250,985 L305,880 M420,800 L500,620 M250,985 L350,1000 Q380,995 395,970 L545,680 M250,1050 L265,1000 M250,1050 L350,1065 Q380,1060 395,1035 L555,715 L540,705 M250,1110 L265,1060 M250,1110 L350,1125 Q385,1120 400,1095 L560,775 L545,768 M250,1140 L265,1115"/>
<ellipse cx="665" cy="665" rx="22" ry="58" transform="rotate(5 665 665)"/>
<ellipse cx="665" cy="668" rx="9" ry="30" transform="rotate(5 665 668)"/>
<ellipse cx="780" cy="682" rx="22" ry="52" transform="rotate(5 780 682)"/><path d="M795,655 A12,28 5 1 0 795,705 M795,655 L800,668 M795,705 L802,690"/>
<path d="M1075,670 L1110,662 Q1145,680 1140,740 Q1130,785 1100,790 L1065,770 L1060,715 Z M1110,662 Q1095,720 1100,790 M1060,715 L1098,725 M1065,690 L865,665 Q845,685 855,715 L1060,745 M890,668 Q875,690 885,718 M920,672 Q905,695 915,722 M950,676 Q935,700 945,727 M980,680 Q965,703 975,731 M1010,684 Q995,707 1005,735 M1040,688 Q1025,711 1035,739"/>
<path d="M195,1365 Q190,1345 205,1320 L265,1225 Q280,1205 305,1208 L470,1232 Q505,1240 508,1275 L510,1440 L430,1555 Q420,1565 400,1563 L235,1540 Q200,1535 198,1505 Z"/>
<path d="M198,1365 Q205,1385 235,1390 L400,1410 Q425,1412 440,1395 L505,1285 M215,1360 L275,1235 Q285,1220 305,1223 L465,1247 Q490,1252 485,1275 L425,1385 Q415,1398 395,1395 L235,1375 Q212,1372 215,1360 Z M295,1240 L295,1355 M410,1430 L410,1540"/>
</g>
<!-- R4: coils region (1040,960) 340 -->
<g class="z k" transform="translate(1040,960) scale(0.215463)">
<path class="tb" stroke-width="14" d="M338,1756 L480,1836 Q540,1856 590,1841 Q635,1821 635,1761 L632,1581 Q632,1421 618,1321 Q608,1221 615,1100"/><path class="tb" stroke-width="13" d="M437,1516 L540,1569 Q590,1581 625,1551"/><path class="tw" stroke-width="9.4" d="M338,1756 L480,1836 Q540,1856 590,1841 Q635,1821 635,1761 L632,1581 Q632,1421 618,1321 Q608,1221 615,1100"/><path class="tw" stroke-width="8.4" d="M437,1516 L540,1569 Q590,1581 625,1551"/>
<path d="M600,1090 Q600,960 700,920 M625,1095 Q630,990 710,945 M650,1080 Q660,1030 760,1000 M585,1100 Q615,1120 655,1100"/>
<path d="M650,1100 Q650,1300 700,1400 M670,1120 Q670,1330 710,1450"/>
<g transform="translate(0,0)">
<path class="kf" d="M1000,560 Q1040,500 1100,520 L1185,490 Q1240,495 1245,560 Q1230,610 1190,625 L1100,690 Q1040,710 1000,680 Z"/>
<path d="M1180,492 Q1160,560 1190,625 M1100,520 Q1075,600 1100,690 M1060,520 Q1025,600 1060,700"/>
<path class="kf" d="M1060,900 Q1060,860 1100,850 L1160,840 Q1200,850 1210,890 L1215,920 Q1200,960 1160,980 L1090,1000 Q1050,990 1045,960 Z"/>
<path d="M1150,845 Q1130,910 1160,980 M1045,960 Q1080,950 1075,1040 M1010,960 Q1040,1000 1030,1050"/>
<path class="kf" d="M1010,730 L1080,760 L1080,880 L1040,900 Z"/>
<path class="kf" d="M745,700 L930,625 Q960,580 1000,600 Q1040,640 1020,700 L1045,830 Q1055,900 1025,950 L880,1005 Q850,1010 835,1040 L780,1100 Q740,1115 720,1085 L700,1040 L700,1000 L640,980 L630,885 L670,870 Q670,820 710,790 Q730,740 745,700 Z"/>
<path d="M930,625 Q970,600 1000,680 M800,740 Q810,790 840,850 Q870,920 860,1000 M835,800 L1010,735 M860,1000 L1030,940 M745,700 Q790,690 800,740 M780,1100 Q790,1050 835,1040"/>
<path class="kf" d="M680,850 L760,825 L790,850 L790,990 L705,1010 L705,930 L680,900 Z"/>
<path d="M700,860 L770,835 M720,900 L790,880 M705,930 L720,900 L720,1005"/>
<ellipse cx="745" cy="945" rx="17" ry="24" transform="rotate(-20 745 945)"/>
</g>
<g transform="translate(0,510)">
<path class="kf" d="M1000,560 Q1040,500 1100,520 L1185,490 Q1240,495 1245,560 Q1230,610 1190,625 L1100,690 Q1040,710 1000,680 Z"/>
<path d="M1180,492 Q1160,560 1190,625 M1100,520 Q1075,600 1100,690 M1060,520 Q1025,600 1060,700"/>
<path class="kf" d="M1060,900 Q1060,860 1100,850 L1160,840 Q1200,850 1210,890 L1215,920 Q1200,960 1160,980 L1090,1000 Q1050,990 1045,960 Z"/>
<path d="M1150,845 Q1130,910 1160,980 M1045,960 Q1080,950 1075,1040 M1010,960 Q1040,1000 1030,1050"/>
<path class="kf" d="M1010,730 L1080,760 L1080,880 L1040,900 Z"/>
<path class="kf" d="M745,700 L930,625 Q960,580 1000,600 Q1040,640 1020,700 L1045,830 Q1055,900 1025,950 L880,1005 Q850,1010 835,1040 L780,1100 Q740,1115 720,1085 L700,1040 L700,1000 L640,980 L630,885 L670,870 Q670,820 710,790 Q730,740 745,700 Z"/>
<path d="M930,625 Q970,600 1000,680 M800,740 Q810,790 840,850 Q870,920 860,1000 M835,800 L1010,735 M860,1000 L1030,940 M745,700 Q790,690 800,740 M780,1100 Q790,1050 835,1040"/>
<path class="kf" d="M680,850 L760,825 L790,850 L790,990 L705,1010 L705,930 L680,900 Z"/>
<path d="M700,860 L770,835 M720,900 L790,880 M705,930 L720,900 L720,1005"/>
<ellipse cx="745" cy="945" rx="17" ry="24" transform="rotate(-20 745 945)"/>
</g>
<g transform="translate(0,1021)">
<path class="kf" d="M130,310 L220,260 L320,320 L320,370 L400,385 L400,440 L440,460 L430,510 L350,510 L240,465 L235,470 L130,420 Z"/>
<path d="M130,310 L235,360 L320,320 M235,360 L235,470 M240,370 L310,340 M240,370 L350,420 L400,385 M350,420 L350,510 M240,370 L240,465 M360,450 L420,480 M365,470 L425,500 M370,490 L425,515 M380,440 L375,505 M400,450 L395,512"/>
</g><g transform="translate(-90,1256)">
<path class="kf" d="M130,310 L220,260 L320,320 L320,370 L400,385 L400,440 L440,460 L430,510 L350,510 L240,465 L235,470 L130,420 Z"/>
<path d="M130,310 L235,360 L320,320 M235,360 L235,470 M240,370 L310,340 M240,370 L350,420 L400,385 M350,420 L350,510 M240,370 L240,465 M360,450 L420,480 M365,470 L425,500 M370,490 L425,515 M380,440 L375,505 M400,450 L395,512"/>
</g>
</g>
<!-- R5: wires/caps region (1300,960) 340 -->
<g class="z k" transform="translate(1300,960) scale(0.215463)">
<g transform="translate(70,555) rotate(14) scale(0.88)" class="ph" style="stroke-dasharray:5 3">
<path d="M0,-30 L110,-38 L120,-50 L170,-50 L180,-25 L330,-12 L345,-22 L400,-18 L400,18 L345,22 L330,12 L180,25 L170,50 L120,50 L110,38 L0,30 Z M20,-30 L20,30 M40,-32 L40,32 M60,-33 L60,33 M80,-35 L80,35 M100,-37 L100,37 M120,-50 L120,50 M145,-50 L145,50 M170,-50 L170,50 M345,-22 L345,22 M370,-20 L370,20"/>
</g><g transform="translate(95,865) rotate(14) scale(1.0)" class="ph" style="stroke-dasharray:5 3">
<path d="M0,-30 L110,-38 L120,-50 L170,-50 L180,-25 L330,-12 L345,-22 L400,-18 L400,18 L345,22 L330,12 L180,25 L170,50 L120,50 L110,38 L0,30 Z M20,-30 L20,30 M40,-32 L40,32 M60,-33 L60,33 M80,-35 L80,35 M100,-37 L100,37 M120,-50 L120,50 M145,-50 L145,50 M170,-50 L170,50 M345,-22 L345,22 M370,-20 L370,20"/>
</g><g transform="translate(40,1225) rotate(14) scale(1.15)" class="ph" style="stroke-dasharray:5 3">
<path d="M0,-30 L110,-38 L120,-50 L170,-50 L180,-25 L330,-12 L345,-22 L400,-18 L400,18 L345,22 L330,12 L180,25 L170,50 L120,50 L110,38 L0,30 Z M20,-30 L20,30 M40,-32 L40,32 M60,-33 L60,33 M80,-35 L80,35 M100,-37 L100,37 M120,-50 L120,50 M145,-50 L145,50 M170,-50 L170,50 M345,-22 L345,22 M370,-20 L370,20"/>
</g>
<path class="tb" stroke-width="12" stroke-linecap="butt" d="M10,885 Q200,770 400,735 Q600,720 880,810 Q1030,850 1055,1000 Q1060,1150 990,1250"/><path class="tw" stroke-width="7.4" stroke-linecap="butt" d="M10,885 Q200,770 400,735 Q600,720 880,810 Q1030,850 1055,1000 Q1060,1150 990,1250"/>
<path class="tb" stroke-width="12" stroke-linecap="butt" d="M20,1045 Q130,1010 250,1060 Q450,1190 600,1235 Q750,1260 860,1250"/><path class="tw" stroke-width="7.4" stroke-linecap="butt" d="M20,1045 Q130,1010 250,1060 Q450,1190 600,1235 Q750,1260 860,1250"/>
<path class="tb" stroke-width="12" stroke-linecap="butt" d="M5,1395 Q150,1290 350,1200 Q560,1140 820,1185"/><path class="tw" stroke-width="7.4" stroke-linecap="butt" d="M5,1395 Q150,1290 350,1200 Q560,1140 820,1185"/>
<path class="tb" stroke-width="12" stroke-linecap="butt" d="M1000,1400 Q990,1500 940,1600"/><path class="tw" stroke-width="7.4" stroke-linecap="butt" d="M1000,1400 Q990,1500 940,1600"/><path class="tb" stroke-width="12" stroke-linecap="butt" d="M30,540 Q300,390 600,325 L780,345"/><path class="tw" stroke-width="7.4" stroke-linecap="butt" d="M30,540 Q300,390 600,325 L780,345"/><path class="tb" stroke-width="12" stroke-linecap="butt" d="M900,390 Q1040,410 1090,500 Q1115,600 1060,720 L990,860"/><path class="tw" stroke-width="7.4" stroke-linecap="butt" d="M900,390 Q1040,410 1090,500 Q1115,600 1060,720 L990,860"/><path class="tb" stroke-width="7" stroke-linecap="butt" d="M760,345 L870,365"/><path class="tw" stroke-width="2.9" stroke-linecap="butt" d="M760,345 L870,365"/>
<path class="kf" d="M530,590 Q500,600 495,700 L715,755 L705,840 Q700,870 740,880 L790,880 L880,760 Q910,700 850,665 Z"/>
<path d="M715,755 L725,740 L730,745"/>
<path class="kf" d="M940,870 Q980,845 1010,880 L1000,960 L960,1020 L870,960 Z"/>
<path class="kf" d="M600,910 Q570,920 565,1030 L880,1110 Q930,1100 940,1050 Q940,1000 900,985 L680,920 Z"/>
<path class="kf" d="M590,1300 Q560,1310 555,1420 L880,1500 Q940,1490 960,1440 L920,1320 L850,1355 Z"/>
<path class="tb" stroke-width="11" stroke-linecap="round" d="M745,850 Q690,890 725,950 Q740,975 800,985 L880,1000 Q955,1020 950,1085 Q945,1160 900,1195 Q860,1205 850,1165"/><path class="tw" stroke-width="6.4" stroke-linecap="round" d="M745,850 Q690,890 725,950 Q740,975 800,985 L880,1000 Q955,1020 950,1085 Q945,1160 900,1195 Q860,1205 850,1165"/>
<path class="tb" stroke-width="11" stroke-linecap="round" d="M850,1130 Q800,1180 830,1240 Q870,1290 920,1260"/><path class="tw" stroke-width="6.4" stroke-linecap="round" d="M850,1130 Q800,1180 830,1240 Q870,1290 920,1260"/>
<path class="tb" stroke-width="11" stroke-linecap="butt" d="M960,1280 Q1000,1330 990,1420"/><path class="tw" stroke-width="6.4" stroke-linecap="butt" d="M960,1280 Q1000,1330 990,1420"/>
<path class="kf" d="M840,295 Q880,285 915,300 Q925,370 895,440 Q860,455 830,440 Q800,370 840,295 Z"/>
<path d="M840,295 Q870,370 830,440 M895,300 Q915,350 880,445"/>
<path class="kf" d="M910,1350 Q920,1310 1000,1300 Q1075,1305 1085,1340 L1085,1390 Q1070,1420 1000,1425 Q930,1420 915,1395 Z"/>
<path d="M910,1350 Q940,1380 1000,1375 Q1070,1370 1085,1340 M960,1340 Q1000,1325 1030,1345"/>
<path class="kf" d="M990,200 Q990,170 1020,175 L1110,215 Q1130,215 1150,205 L1260,120 L1215,90 Q1210,60 1240,55 L1300,95 L1305,150 L1150,255 Q1120,275 1090,270 L1000,230 Z"/>
<path d="M1000,230 L1000,200 Q1060,235 1110,245 Q1140,245 1160,230 L1300,120 M1085,210 Q1070,160 1100,130 Q1120,150 1125,205 M1150,200 Q1140,130 1165,105 Q1190,130 1190,170 M1215,90 Q1200,120 1230,140 M1100,130 L1130,160 M1165,105 L1195,135"/>
<path d="M1115,1040 L1170,1020 Q1200,990 1190,1000 Q1230,1010 1200,1040 Q1180,1060 1215,1075 Q1240,1060 1290,1050 L1270,1080 Q1230,1085 1230,1110 L1280,1125 L1260,1145 L1215,1120 Q1200,1090 1215,1075 M1115,1040 L1160,1070 L1215,1060 M1170,1020 Q1165,1040 1185,1050"/>
</g>
<!-- R6: cap4 region (1300,1240) 340 -->
<g class="z k" transform="translate(1300,1240) scale(0.215463)">
<path class="kf" d="M490,400 Q455,410 450,530 L750,605 Q800,610 830,590 L940,380 Q950,330 900,320 Q870,315 850,335 L770,440 Q750,465 720,455 Z"/>
<g class="ph" style="stroke-dasharray:5 3"><path d="M-60,290 L60,310 L70,300 L180,325 L190,350 L330,400 L330,450 L180,430 L170,445 L60,420 L50,400 L-60,380 M0,300 L-5,385 M25,305 L20,390 M50,308 L45,395 M110,312 L105,432 M150,318 L145,438"/></g>
<circle cx="375" cy="440" r="5" fill="#000"/>
</g>
<!-- R7: brackets 12,13,14 region (1300,1500) 340 -->
<g class="z k" transform="translate(1300,1500) scale(0.215463)">
<path class="kf" d="M290,140 L500,230 L625,155 Q650,140 665,160 L655,260 L495,350 L475,355 L470,400 L450,420 L390,455 Q330,450 315,420 Q320,390 385,370 L385,275 L290,215 Z"/>
<path d="M495,230 L495,350 M460,260 L530,260 L495,290 Z M310,180 L340,192 L340,225 L310,213 Z M385,275 L400,270 M400,370 L450,395"/>
<ellipse cx="370" cy="415" rx="20" ry="12"/>
<ellipse cx="600" cy="245" rx="20" ry="27" transform="rotate(35 600 245)"/>
<path class="kf" d="M275,1255 L335,1245 Q380,1215 430,1255 L470,1290 L470,1325 L495,1335 L650,1250 L660,1260 L655,1370 Q640,1420 600,1425 L490,1450 L275,1335 Z"/>
<path d="M495,1335 L495,1450 M440,1350 L540,1350 L495,1390 Z M275,1300 L330,1330 Q400,1320 450,1280 M310,1300 L310,1325"/>
<ellipse cx="355" cy="1280" rx="25" ry="14"/>
<ellipse cx="590" cy="1385" rx="20" ry="27" transform="rotate(35 590 1385)"/>
<ellipse class="kf" cx="845" cy="390" rx="38" ry="55" transform="rotate(20 845 390)"/><ellipse cx="845" cy="390" rx="16" ry="25" transform="rotate(20 845 390)"/><path d="M960,415 A28,45 20 1 0 955,470 L940,458 A12,22 20 1 1 943,428 Z"/><g transform="translate(990,480) rotate(33)">
<path class="kf" d="M0,-22 L170,-22 L170,-38 L215,-45 Q260,-30 262,5 Q258,40 225,50 L170,38 L170,22 L0,22 Q-12,0 0,-22 Z"/>
<path d="M215,-45 Q200,0 225,50 M170,-5 L205,-8 M20,-22 Q8,0 20,22 M42,-22 Q30,0 42,22 M64,-22 Q52,0 64,22 M86,-22 Q74,0 86,22 M108,-22 Q96,0 108,22 M130,-22 Q118,0 130,22 M152,-22 Q140,0 152,22"/>
</g>
<ellipse class="kf" cx="840" cy="1525" rx="38" ry="55" transform="rotate(20 840 1525)"/><ellipse cx="840" cy="1525" rx="16" ry="25" transform="rotate(20 840 1525)"/><path d="M960,1550 A28,45 20 1 0 955,1605 L940,1593 A12,22 20 1 1 943,1563 Z"/><g transform="translate(990,1620) rotate(33)">
<path class="kf" d="M0,-22 L170,-22 L170,-38 L215,-45 Q260,-30 262,5 Q258,40 225,50 L170,38 L170,22 L0,22 Q-12,0 0,-22 Z"/>
<path d="M215,-45 Q200,0 225,50 M170,-5 L205,-8 M20,-22 Q8,0 20,22 M42,-22 Q30,0 42,22 M64,-22 Q52,0 64,22 M86,-22 Q74,0 86,22 M108,-22 Q96,0 108,22 M130,-22 Q118,0 130,22 M152,-22 Q140,0 152,22"/>
</g>
<g transform="translate(0,0)">
<path class="kf" d="M305,700 L345,680 L445,655 L450,765 L350,820 L305,795 Z"/>
<path d="M345,680 L350,820 M370,720 L435,700 L435,760 L375,785 Z M385,740 L420,730 M305,700 L350,715"/>
<path class="kf" d="M270,665 L290,650 L320,660 L330,600 Q340,555 370,560 L410,580 Q450,600 450,640 L440,660 L345,685 L300,690 Z"/>
<path d="M330,600 L350,640 L370,560 M385,600 L400,640 L420,625 L400,590 M300,690 L330,660 L410,640 M350,640 L345,685"/>
</g><g transform="translate(10,1710) scale(1,-1)">
<path class="kf" d="M305,700 L345,680 L445,655 L450,765 L350,820 L305,795 Z"/>
<path d="M345,680 L350,820 M370,720 L435,700 L435,760 L375,785 Z M385,740 L420,730 M305,700 L350,715"/>
<path class="kf" d="M270,665 L290,650 L320,660 L330,600 Q340,555 370,560 L410,580 Q450,600 450,640 L440,660 L345,685 L300,690 Z"/>
<path d="M330,600 L350,640 L370,560 M385,600 L400,640 L420,625 L400,590 M300,690 L330,660 L410,640 M350,640 L345,685"/>
</g>
</g>
<!-- R8: ECU 23,24,25,26 region (340,1390) 340 -->
<g class="z k" transform="translate(340,1390) scale(0.215463)">
<path class="kf" d="M180,310 L290,225 L330,220 L400,255 L320,300 L320,860 L220,800 L220,740 L175,700 L175,580 L230,510 L220,450 L180,420 Z"/>
<path d="M180,310 L265,350 L295,355 L295,440 L265,435 L180,395 M265,350 L265,435 M240,290 L320,330 M175,580 L260,615 L290,620 L290,745 L260,740 L175,700 M260,615 L260,740 M230,510 L320,550 M220,800 L220,740"/>
<path class="kf" d="M415,250 L420,185 L470,150 L480,100 L500,95 L610,155 L615,290 L690,320 L700,280 L750,245 L835,290 L855,355 L860,460 L800,470 Z"/>
<path d="M470,150 L520,175 L520,250 Q490,260 470,240 Q440,220 445,190 Q450,170 470,165 M500,95 L545,185 L610,155 M545,185 L560,290 L615,290 M570,310 L640,330 L640,370 L570,350 Z M700,280 Q720,330 715,380 Q730,410 770,415 L780,400 Q750,380 745,340 Q745,315 770,310 L800,320 L835,290 M800,320 L810,400 L855,355 M810,400 L810,460"/>
<path class="kf" d="M490,1000 L560,1000 L590,1040 L555,1060 L500,1030 Z M670,1080 L700,1130 L750,1170 L860,1130 L860,1090 L800,1100 Z"/>
<path d="M750,1170 L780,1130 L800,1150 M810,1110 L810,1150"/>
<path class="kf" d="M320,300 Q320,285 340,292 L770,500 L880,440 Q905,450 905,480 L905,1050 L860,1100 L805,1130 Q790,1140 770,1125 L360,925 Q322,905 320,870 Z"/>
<path d="M770,500 Q805,515 805,545 L805,1125 M460,362 L460,985 M550,395 L550,1015 M460,362 L550,380 M460,985 L550,1000 M805,545 L905,480"/>
<path class="kf" d="M560,740 Q565,690 620,675 L665,690 Q710,720 715,770 L700,820 Q680,855 640,855 L620,820 Q570,800 560,740 Z"/>
<path d="M590,700 Q575,760 625,815 M620,690 Q610,750 650,800 M650,690 Q645,740 690,790 M640,855 Q640,830 665,825 L700,820 M600,680 L620,720 M665,690 L680,730"/>
<path class="kf" d="M1075,580 Q1080,555 1110,550 L1175,505 Q1180,465 1220,462 Q1270,475 1285,530 Q1290,570 1265,585 Q1250,595 1230,590 L1150,635 Q1120,650 1100,625 Q1075,610 1075,580 Z"/>
<path d="M1220,462 Q1195,480 1210,540 Q1225,585 1250,592 M1110,550 Q1145,565 1150,635"/>
<ellipse cx="1112" cy="595" rx="22" ry="32" transform="rotate(-25 1112 595)"/>
<path class="kf" d="M100,1130 Q105,1080 150,1075 L185,1085 L195,1045 Q240,1030 270,1065 Q295,1105 285,1150 L260,1165 L230,1170 L215,1160 L210,1190 Q185,1215 155,1215 Q105,1190 100,1130 Z"/>
<ellipse cx="155" cy="1148" rx="32" ry="48" transform="rotate(-20 155 1148)"/>
<path d="M185,1085 Q215,1120 210,1190 M195,1045 Q230,1090 230,1170 M230,1040 Q265,1090 260,1165"/>
</g>
<!-- R9: bolt 26 region (260,1620) 260 -->
<g class="z k" transform="translate(260,1620) scale(0.164766)">
<path class="kf" d="M260,310 L520,160 Q560,140 578,175 Q585,205 560,225 L295,370 Z"/>
<path d="M400,230 Q430,250 425,295 M425,215 Q455,235 450,282 M450,200 Q480,220 475,268 M475,187 Q505,207 500,255 M500,173 Q530,193 525,242 M525,160 Q555,180 550,230"/>
<path class="kf" d="M140,310 Q165,280 205,285 Q260,300 285,370 Q300,430 270,460 L240,480 Q200,490 160,475 Q110,450 105,385 Q105,340 140,310 Z"/>
<path d="M140,310 Q190,300 230,350 Q270,410 240,480 M165,295 Q215,295 255,350 Q285,410 262,465 M120,345 Q150,330 195,345 L230,390 L235,440 L210,475 M195,345 L205,440 L235,440 M205,440 L200,480"/>
</g>
<!-- R10: FWD arrow region (290,1880) 260 -->
<g class="z k" transform="translate(290,1880) scale(0.164766)">
<path class="kf" stroke-width="2.4" d="M390,597 L580,300 L625,325 L630,360 L905,205 L955,235 L955,465 L630,650 L630,735 Z"/>
<path stroke-width="1.2" d="M440,612 L612,345 M630,360 L622,420 L940,248 L955,235 M940,248 L940,460"/>
</g>
<text transform="translate(389.5,1983.5) matrix(0.68,-0.385,-0.07,1,0,0)" font-family="Liberation Sans, sans-serif" font-weight="bold" font-size="32.5" fill="#000" stroke="#000" stroke-width="1.4">FWD</text>
</g>
<!-- LEADERS -->
<g id="leaders" class="ld">
<!-- region R1 -->
<g class="z" transform="translate(840,380) scale(0.164766)">
<path d="M815,205 L1000,515 M490,1125 L437,1410 M915,1150 L860,1578 M1190,1310 L1223,1748 M148,632 L350,755 M440,835 L775,705 M620,905 L855,1045"/>
</g>
<g class="z" transform="translate(360,600) scale(0.164766)">
<path d="M663,75 L590,400 M860,835 L1320,570 M575,1000 L790,880 M530,1130 L680,1450 M260,1280 L352,1618"/>
</g>
<g class="z" transform="translate(1180,680) scale(0.215463)">
<path d="M477,105 L440,305 M765,145 L680,620 M1012,175 L785,640 M1310,225 L1110,670 M510,1340 L670,1318 M1110,1385 L1140,1578 M1395,1300 L1315,1578 M500,650 L640,655 M0,570 L50,578 M75,582 L85,583 M110,587 L160,595"/>
</g>
<g class="z" transform="translate(1040,960) scale(0.215463)">
<path d="M685,565 L775,690 M845,1601 L790,1931 M0,1041 L585,1366 M745,945 L1555,1411 M745,1461 L1300,1771 M0,510 L605,870 M420,0 L420,315 L1040,480"/>

</g>
<g class="z" transform="translate(1300,960) scale(0.215463)">
<path d="M555,85 L585,300 M840,0 L665,610 M1310,0 L1280,75 M1245,895 L1215,990"/>
</g>
<g class="z" transform="translate(1300,1240) scale(0.215463)">
<path d="M900,205 L1130,430 M830,595 L1130,790 M575,1100 L585,1390 M820,1210 L845,1540 M347,1310 L500,1400"/>
</g>
<g class="z" transform="translate(1300,1500) scale(0.215463)">
<path d="M1045,105 L955,400 M1235,215 L1095,500 M600,260 L790,355 M370,480 L370,540 M455,715 L760,715 M440,968 L735,968 M355,1160 L355,1280 M590,1385 L790,1490 M360,1399 L185,1609 M790,1569 L490,1769 M905,1614 L695,1904 M1130,1764 L990,2064 M93,1100 L270,1195 M290,1205 L310,1220"/>
</g>
<g class="z" transform="translate(340,1390) scale(0.215463)">
<path d="M935,690 L1110,600 M1300,485 L1540,350 M1200,620 L1455,915 M905,1040 L1080,1215 M300,1060 L415,1000 M270,1150 L545,1530"/>
</g>
<g class="z" transform="translate(260,1620) scale(0.164766)">
<path d="M375,335 L735,905"/>
</g>
<!-- long lines in source coords -->
<path d="M865,484 L865,1013"/>
<path stroke-dasharray="92 6 5 6 400" d="M578,694 L578,1002"/>
<path stroke-dasharray="190 5 3 5 126 5 3 5 214 5 3 5 200" d="M512,1111 L283,1240 L671.5,1465.5"/>
<path stroke-dasharray="11 5 6 5 196 3 7 3 30" d="M1375,1264 L1375,1522.3"/>
<path stroke-dasharray="43 6 6 5 180 4 9 4 200" d="M1320,1341.6 L1320,1737"/>
<path d="M1085.2,864.8 L1152.4,875.5 L1152.4,798.9 L1181,801.6"/>
<path d="M1008.2,893.3 L1130.8,925.6 L1130.8,962"/>
<path d="M954,1020.4 L1042,1071 M954,1132 L1042,1185.5"/>
<path d="M828.4,992.3 L864.6,1013.2"/>
</g>
<!-- LABELS -->
<g id="labels">
<text class="lb" transform="translate(471.2,605.8) scale(1.19,1)">20</text>
<text class="lb" transform="translate(479.7,863.4) scale(1.19,1)">22</text>
<text class="lb" transform="translate(420.0,893.8) scale(1.19,1)">21</text>
<text class="lb" transform="translate(967.0,409.7) scale(1.19,1)">4</text>
<text class="lb" transform="translate(906.7,635.4) scale(1.19,1)">1</text>
<text class="lb" transform="translate(979.4,661.8) scale(1.19,1)">3</text>
<text class="lb" transform="translate(1040.8,692.2) scale(1.19,1)">2</text>
<text class="lb" transform="translate(1283.5,697.5) scale(1.19,1)">15</text>
<text class="lb" transform="translate(1346.0,705.5) scale(1.19,1)">19</text>
<text class="lb" transform="translate(1399.6,712.2) scale(1.19,1)">18</text>
<text class="lb" transform="translate(1466.3,723.2) scale(1.19,1)">17</text>
<text class="lb" transform="translate(1347.6,972.4) scale(1.19,1)">16</text>
<text class="lb" transform="translate(1417.0,972.4) scale(1.19,1)">6</text>
<text class="lb" transform="translate(1486.3,955.3) scale(1.19,1)">6</text>
<text class="lb" transform="translate(1593.0,940.3) scale(1.19,1)">8</text>
<text class="lb" transform="translate(1178.2,1080.2) scale(1.19,1)">5</text>
<text class="lb" transform="translate(1570.7,1148.0) scale(1.19,1)">7</text>
<text class="lb" transform="translate(1555.7,1355.0) scale(1.19,1)">6</text>
<text class="lb" transform="translate(1555.7,1429.8) scale(1.19,1)">6</text>
<text class="lb" transform="translate(1210.0,1403.0) scale(1.19,1)">5</text>
<text class="lb" transform="translate(1421.5,1467.8) scale(1.19,1)">12</text>
<text class="lb" transform="translate(1476.5,1493.8) scale(1.19,1)">11</text>
<text class="lb" transform="translate(1527.2,1516.7) scale(1.19,1)">10</text>
<text class="lb" transform="translate(1571.7,1540.7) scale(1.19,1)">9</text>
<text class="lb" transform="translate(1485.0,1664.6) scale(1.19,1)">14</text>
<text class="lb" transform="translate(1482.3,1719.0) scale(1.19,1)">14</text>
<text class="lb" transform="translate(1326.8,1870.0) scale(1.19,1)">13</text>
<text class="lb" transform="translate(1386.3,1902.0) scale(1.19,1)">11</text>
<text class="lb" transform="translate(1445.8,1935.0) scale(1.19,1)">10</text>
<text class="lb" transform="translate(1506.5,1968.7) scale(1.19,1)">9</text>
<text class="lb" transform="translate(670.7,1611.2) scale(1.19,1)">25</text>
<text class="lb" transform="translate(591.8,1674.2) scale(1.19,1)">23</text>
<text class="lb" transform="translate(473.3,1743.0) scale(1.19,1)">24</text>
<text class="lb" transform="translate(396.5,1793.7) scale(1.19,1)">26</text>
<text transform="translate(304.5,2042.3) scale(1.223,1)" font-family="Liberation Sans, sans-serif" font-size="26.5" fill="#000" stroke="#000" stroke-width="0.4">6C11010-D130</text>
</g>
<!-- WATERMARK -->
<g id="wm">
<text class="wm" transform="translate(22,789) rotate(32)" font-size="150">Flood Marine Services</text>
</g>
</svg>
</body>
</html>
